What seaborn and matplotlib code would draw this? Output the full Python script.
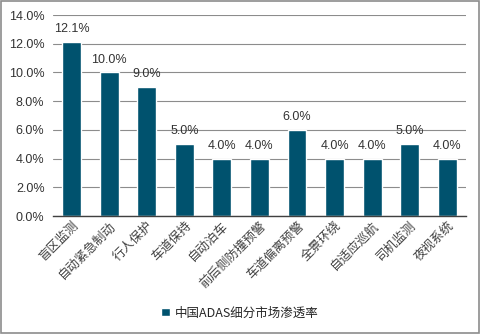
import matplotlib
matplotlib.use("Agg")
import matplotlib.pyplot as plt
import seaborn as sns
import pandas as pd
from matplotlib.ticker import FuncFormatter, MultipleLocator

categories = ["盲区监测", "自动紧急制动", "行人保护", "车道保持", "自动泊车", "前后侧防撞预警",
              "车道偏离预警", "全景环绕", "自适应巡航", "司机监测", "夜视系统"]
values = [12.1, 10.0, 9.0, 5.0, 4.0, 4.0, 6.0, 4.0, 4.0, 5.0, 4.0]
series_name = "中国ADAS细分市场渗透率"

sns.set_theme(style="white")
plt.rcParams['font.family'] = ['Liberation Sans', 'Noto Sans CJK SC', 'DejaVu Sans']

df = pd.DataFrame({"cat": categories, "val": values, "series": series_name})

fig = plt.figure(figsize=(4.8, 3.34), dpi=100)
ax = fig.add_axes([0.110, 0.353, 0.861, 0.602])
color = "#00526E"
sns.barplot(data=df, x="cat", y="val", hue="series", palette=[color], width=0.5,
            ax=ax, legend=True, saturation=1)

ax.set_ylim(0, 14)
ax.yaxis.set_major_locator(MultipleLocator(2))
ax.yaxis.set_major_formatter(FuncFormatter(lambda v, p: f"{v:.1f}%"))
ax.grid(axis="y", color="#8C8C8C", linewidth=0.8)
ax.set_axisbelow(True)
for s in ["top", "right", "left"]:
    ax.spines[s].set_visible(False)
ax.spines["bottom"].set_color("#404040")
ax.spines["bottom"].set_linewidth(1.0)
ax.set_xlabel("")
ax.set_ylabel("")
ax.tick_params(axis="y", labelsize=9, colors="#333333", length=0, pad=6)
ax.tick_params(axis="x", labelsize=9, colors="#404040", length=0, pad=2)
plt.setp(ax.get_xticklabels(), rotation=45, ha="right", rotation_mode="anchor",
         family=['Noto Sans CJK SC', 'DejaVu Sans'])

for c in ax.containers:
    ax.bar_label(c, labels=[f"{v:.1f}%" for v in values], padding=5, fontsize=9, color="#333333")

leg = ax.legend(loc="center", bbox_to_anchor=(0.5, 0.063), bbox_transform=fig.transFigure,
                frameon=False, handlelength=0.7, handleheight=0.7, handletextpad=0.4,
                prop={'family': ['Noto Sans CJK SC', 'DejaVu Sans'], 'size': 9})

fig.patches.append(plt.Rectangle((0.002, 0.003), 0.996, 0.994, transform=fig.transFigure,
                                 fill=False, edgecolor="#8C8C8C", linewidth=1.2))
fig.savefig("out.png", dpi=100)
